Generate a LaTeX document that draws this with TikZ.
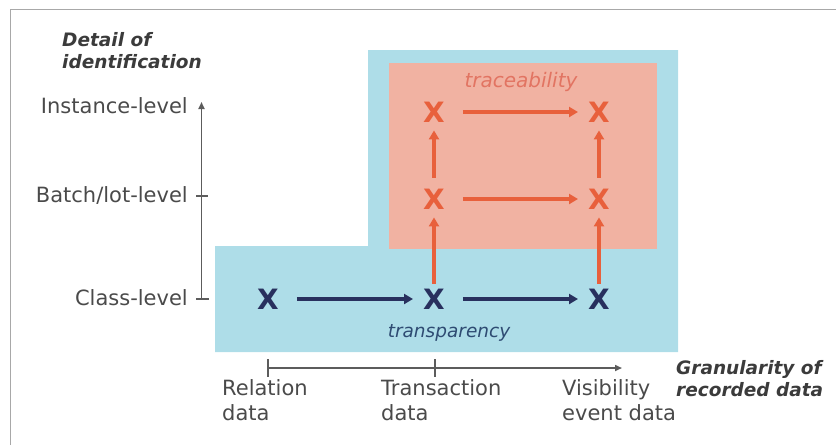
\documentclass[tikz,border=0pt]{standalone}
\usepackage{fontspec}
\setmainfont{DejaVu Sans}
\usetikzlibrary{arrows.meta}
\definecolor{bgblue}{HTML}{AEDDE8}
\definecolor{bgpink}{HTML}{F1B2A2}
\definecolor{xorange}{HTML}{E8603C}
\definecolor{xnavy}{HTML}{28305E}
\definecolor{tracec}{HTML}{E27462}
\definecolor{transc}{HTML}{2E4B72}
\definecolor{axtext}{HTML}{4A4A4A}
\definecolor{axline}{HTML}{5C5C5C}
\definecolor{framec}{HTML}{A8A8A8}
\tikzset{
  xmark/.style={inner sep=0pt, font=\fontsize{28}{28}\bfseries\selectfont},
  navyx/.style={xmark, text=xnavy},
  orangex/.style={xmark, text=xorange},
  navyarrow/.style={draw=xnavy, line width=3.2pt, -{Triangle[length=9pt,width=10pt]}, shorten <=18pt, shorten >=10pt},
  orangearrow/.style={draw=xorange, line width=3.2pt, -{Triangle[length=9pt,width=10pt]}, shorten <=18pt, shorten >=10pt},
  orangevert/.style={draw=xorange, line width=3.2pt, -{Triangle[length=9pt,width=10pt]}, shorten >=8pt},
  axis/.style={draw=axline, line width=1.6pt},
  axlabel/.style={text=axtext, font=\fontsize{21}{25}\selectfont, inner sep=0pt},
  axtitle/.style={text=axtext!80!black, font=\fontsize{18.5}{22}\bfseries\itshape\selectfont, inner sep=0pt, align=left},
}
\begin{document}
\begin{tikzpicture}[x=1pt,y=-1pt]
\useasboundingbox (0,0) rectangle (836,445);
% frame
\draw[framec, line width=1.2pt] (10.5,445) -- (10.5,9.5) -- (836,9.5);
% areas
\fill[bgblue] (215,246) -- (368,246) -- (368,50) -- (678,50) -- (678,352) -- (215,352) -- cycle;
\fill[bgpink] (389,63) rectangle (657,249);
\node[inner sep=0pt, font=\fontsize{20}{22}\itshape\selectfont, text=tracec] (trace) at (521,82) {traceability};
\node[inner sep=0pt, font=\fontsize{18.5}{22}\itshape\selectfont, text=transc] (transp) at (449,333) {transparency};
% vertical axis
\node[axtitle, anchor=north west] (ytitle) at (62,32) {Detail of\\identification};
\node[axlabel, anchor=base east] (inst) at (188,113) {Instance-level};
\node[axlabel, anchor=base east] (batch) at (188,202) {Batch/lot-level};
\node[axlabel, anchor=base east] (cls) at (188,305) {Class-level};
\coordinate (ybot) at (201.5,299);
\coordinate (ytop) at (201.5,102);
\draw[axis, -{Triangle[length=7pt,width=6pt]}] (ybot) -- (ytop);
\draw[axis] (196,196) -- (208,196);
\draw[axis] (196,299) -- (209,299);
% horizontal axis
\coordinate (xl) at (268,368);
\coordinate (xr) at (622,368);
\draw[axis, -{Triangle[length=7pt,width=6pt]}] (xl) -- (xr);
\draw[axis] (268,359) -- (268,377);
\draw[axis] (435,359) -- (435,377);
\node[axlabel, anchor=north west, align=left] (rel) at (222,379) {Relation\\data};
\node[axlabel, anchor=north west, align=left] (tra) at (381,379) {Transaction\\data};
\node[axlabel, anchor=north west, align=left] (vis) at (562,379) {Visibility\\event data};
\node[axtitle, anchor=north west] (xtitle) at (676,360) {Granularity of\\recorded data};
% marks
\node[navyx] (c1) at (268,299) {X};
\node[navyx] (c2) at (434,299) {X};
\node[navyx] (c3) at (599,299) {X};
\node[orangex] (b2) at (434,199) {X};
\node[orangex] (b3) at (599,199) {X};
\node[orangex] (i2) at (434,112) {X};
\node[orangex] (i3) at (599,112) {X};
% connectors
\draw[navyarrow] (c1) -- (c2);
\draw[navyarrow] (c2) -- (c3);
\draw[orangearrow] (b2) -- (b3);
\draw[orangearrow] (i2) -- (i3);
\draw[orangevert, shorten <=5pt] (c2) -- (b2);
\draw[orangevert, shorten <=5pt] (c3) -- (b3);
\draw[orangevert, shorten <=11pt] (b2) -- (i2);
\draw[orangevert, shorten <=11pt] (b3) -- (i3);
\end{tikzpicture}
\end{document}
